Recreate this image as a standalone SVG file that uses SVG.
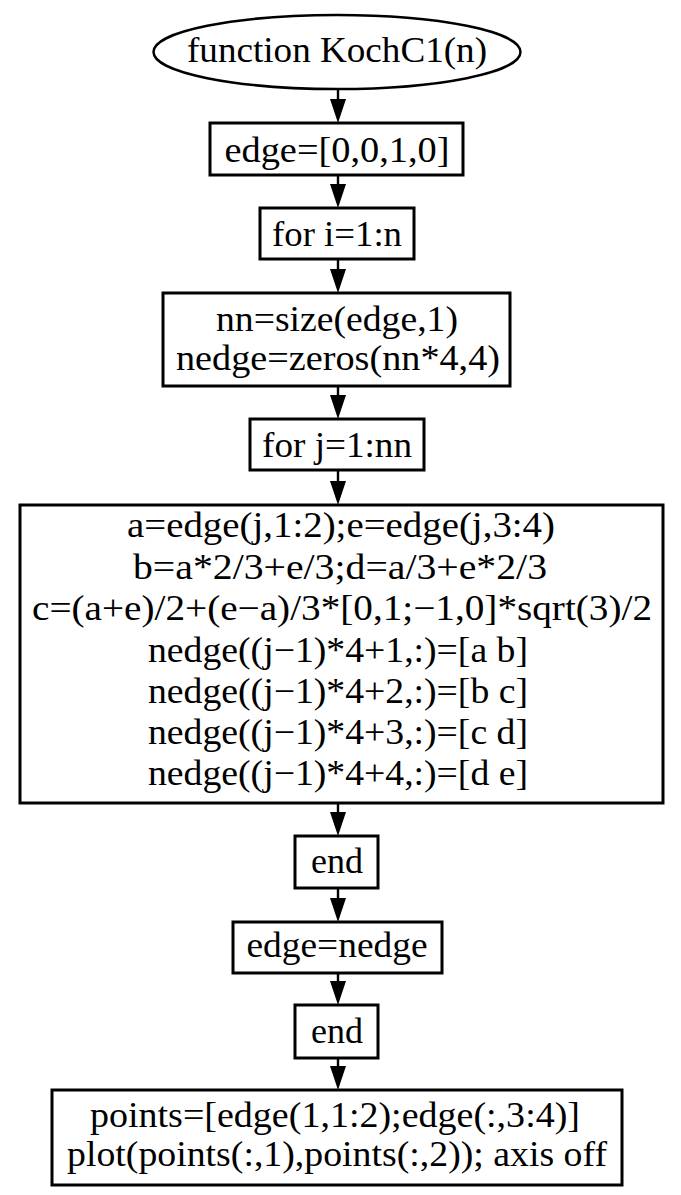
<svg xmlns="http://www.w3.org/2000/svg" width="681" height="1195" viewBox="0 0 681 1195">
<style>
.box{fill:#fff;stroke:#000;stroke-width:3}
.t{font-family:"Liberation Serif","Times New Roman",serif;font-size:36px;fill:#000;text-anchor:middle}
.c{stroke:#000;stroke-width:2.4;fill:none}
</style>
<defs>
<path id="ah" d="M-8,-24 L8,-24 L0,0 Z" fill="#000"/>
</defs>
<rect width="681" height="1195" fill="#fff"/>
<g id="connectors">
<path class="c" d="M338,89 V102"/><use href="#ah" x="338" y="123"/>
<path class="c" d="M338,175 V187"/><use href="#ah" x="338" y="208"/>
<path class="c" d="M338,259 V272"/><use href="#ah" x="338" y="293"/>
<path class="c" d="M338,386 V398"/><use href="#ah" x="338" y="419"/>
<path class="c" d="M338,470 V484"/><use href="#ah" x="338" y="505"/>
<path class="c" d="M338,803 V815"/><use href="#ah" x="338" y="836"/>
<path class="c" d="M338,888 V901"/><use href="#ah" x="338" y="922"/>
<path class="c" d="M338,973 V984"/><use href="#ah" x="338" y="1005"/>
<path class="c" d="M338,1058 V1069"/><use href="#ah" x="338" y="1090"/>
</g>
<g id="start">
<ellipse cx="337" cy="52" rx="183.5" ry="37" fill="#fff" stroke="#000" stroke-width="2.5"/>
<text class="t" x="337" y="62" textLength="300" lengthAdjust="spacingAndGlyphs">function KochC1(n)</text>
</g>
<g id="init">
<rect class="box" x="210" y="123" width="253" height="52"/>
<text class="t" x="337" y="162" textLength="225" lengthAdjust="spacingAndGlyphs">edge=[0,0,1,0]</text>
</g>
<g id="fori">
<rect class="box" x="260" y="208" width="154" height="51"/>
<text class="t" x="337" y="246" textLength="130" lengthAdjust="spacingAndGlyphs">for i=1:n</text>
</g>
<g id="alloc">
<rect class="box" x="163" y="293" width="347" height="93"/>
<text class="t" x="337" y="331" textLength="242" lengthAdjust="spacingAndGlyphs">nn=size(edge,1)</text>
<text class="t" x="338" y="370" textLength="324" lengthAdjust="spacingAndGlyphs">nedge=zeros(nn*4,4)</text>
</g>
<g id="forj">
<rect class="box" x="250" y="419" width="174" height="51"/>
<text class="t" x="337" y="457" textLength="150" lengthAdjust="spacingAndGlyphs">for j=1:nn</text>
</g>
<g id="body">
<rect class="box" x="20" y="505" width="643" height="298"/>
<text class="t" x="341" y="537" textLength="428" lengthAdjust="spacingAndGlyphs">a=edge(j,1:2);e=edge(j,3:4)</text>
<text class="t" x="340" y="579" textLength="414" lengthAdjust="spacingAndGlyphs">b=a*2/3+e/3;d=a/3+e*2/3</text>
<text class="t" x="342" y="620" textLength="620" lengthAdjust="spacingAndGlyphs">c=(a+e)/2+(e−a)/3*[0,1;−1,0]*sqrt(3)/2</text>
<text class="t" x="338" y="662" textLength="380" lengthAdjust="spacingAndGlyphs">nedge((j−1)*4+1,:)=[a b]</text>
<text class="t" x="338" y="703" textLength="380" lengthAdjust="spacingAndGlyphs">nedge((j−1)*4+2,:)=[b c]</text>
<text class="t" x="338" y="744" textLength="380" lengthAdjust="spacingAndGlyphs">nedge((j−1)*4+3,:)=[c d]</text>
<text class="t" x="338" y="785" textLength="380" lengthAdjust="spacingAndGlyphs">nedge((j−1)*4+4,:)=[d e]</text>
</g>
<g id="endj">
<rect class="box" x="295" y="836" width="83" height="52"/>
<text class="t" x="337" y="873" textLength="52" lengthAdjust="spacingAndGlyphs">end</text>
</g>
<g id="update">
<rect class="box" x="233" y="922" width="209" height="51"/>
<text class="t" x="337" y="957" textLength="181" lengthAdjust="spacingAndGlyphs">edge=nedge</text>
</g>
<g id="endi">
<rect class="box" x="295" y="1005" width="83" height="53"/>
<text class="t" x="337" y="1043" textLength="52" lengthAdjust="spacingAndGlyphs">end</text>
</g>
<g id="plot">
<rect class="box" x="52" y="1090" width="570" height="95"/>
<text class="t" x="335" y="1127" textLength="490" lengthAdjust="spacingAndGlyphs">points=[edge(1,1:2);edge(:,3:4)]</text>
<text class="t" x="337" y="1166" textLength="540" lengthAdjust="spacingAndGlyphs">plot(points(:,1),points(:,2)); axis off</text>
</g>
</svg>
